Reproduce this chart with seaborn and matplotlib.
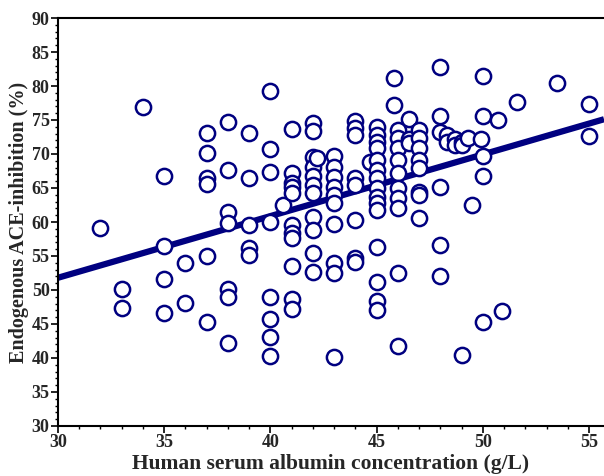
import matplotlib
matplotlib.use("Agg")
import matplotlib.pyplot as plt
import seaborn as sns
import pandas as pd
import numpy as np
from matplotlib.ticker import MultipleLocator

# ---- data ----
albumin = [32,
           33, 33,
           34,
           35, 35, 35, 35,
           36, 36,
           37, 37, 37, 37, 37, 37,
           38, 38, 38, 38, 38, 38, 38,
           39, 39, 39, 39, 39,
           40, 40, 40, 40, 40, 40, 40, 40,
           40.6,
           41, 41, 41, 41, 41, 41, 41, 41, 41, 41, 41,
           42, 42, 42, 42, 42, 42, 42, 42, 42, 42, 42,
           42.2,
           43, 43, 43, 43, 43, 43, 43, 43, 43, 43,
           44, 44, 44, 44, 44, 44, 44, 44,
           44.7,
           45, 45, 45, 45, 45, 45, 45, 45, 45, 45, 45, 45, 45, 45, 45,
           45.8, 45.8,
           46, 46, 46, 46, 46, 46, 46, 46, 46, 46,
           46.5, 46.5, 46.5,
           47, 47, 47, 47, 47, 47, 47, 47,
           48, 48, 48, 48, 48, 48,
           48.3, 48.3,
           48.7, 48.7,
           49, 49, 49,
           49.3,
           49.5,
           49.9,
           50, 50, 50, 50, 50,
           50.7,
           50.9,
           51.6,
           53.5,
           55, 55]

inhibition = [59.1,
              50.1, 47.3,
              76.9,
              66.8, 56.5, 51.6, 46.6,
              54.0, 48.1,
              73.1, 70.1, 66.5, 65.6, 55.0, 45.3,
              74.7, 67.6, 61.5, 59.9, 50.2, 49.0, 42.2,
              73.1, 66.5, 59.6, 56.2, 55.1,
              79.3, 70.8, 67.4, 60.0, 48.9, 45.7, 43.1, 40.3,
              62.5,
              73.7, 67.2, 65.8, 65.1, 64.2, 59.5, 58.4, 57.6, 53.6, 48.7, 47.2,
              74.6, 73.4, 69.6, 68.1, 66.8, 65.5, 64.2, 60.7, 58.8, 55.4, 52.6,
              69.4,
              69.7, 68.1, 66.6, 65.2, 64.0, 62.8, 59.7, 54.0, 52.5, 40.1,
              74.9, 73.8, 72.8, 66.5, 65.4, 60.3, 54.7, 54.1,
              68.8,
              74.0, 72.8, 71.8, 70.9, 69.1, 67.6, 66.5, 65.0, 63.7, 62.8, 61.8, 56.3, 51.2, 48.4, 47.1,
              81.2, 77.2,
              73.5, 72.4, 70.9, 69.1, 67.2, 65.0, 63.5, 62.1, 52.5, 41.8,
              75.1, 72.2, 71.6,
              73.5, 72.4, 70.9, 69.1, 67.9, 64.4, 64.0, 60.6,
              82.8, 75.6, 73.2, 65.1, 56.6, 52.1,
              72.8, 71.8,
              72.2, 71.3,
              71.8, 71.3, 40.4,
              72.4,
              62.5,
              72.2,
              81.5, 75.6, 69.7, 66.8, 45.3,
              75.0,
              46.9,
              77.6,
              80.4,
              77.3, 72.6]

# regression line
fit_intercept = 24.59
fit_slope = 0.907

x_ticks = [30, 35, 40, 45, 50, 55]
y_ticks = [30, 35, 40, 45, 50, 55, 60, 65, 70, 75, 80, 85, 90]

xlabel = "Human serum albumin concentration (g/L)"
ylabel = "Endogenous ACE-inhibition (%)"

navy = "#000080"

df = pd.DataFrame({"albumin": albumin, "inhibition": inhibition})

sns.set_theme(style="ticks")
plt.rcParams['font.family'] = ['Liberation Serif', 'DejaVu Serif']
plt.rcParams['font.weight'] = 'bold'

fig = plt.figure(figsize=(6.04, 4.76), dpi=100)
ax = fig.add_axes([58 / 604, 50 / 476, (604 - 58) / 604, 408 / 476])

xmin, xmax = 30, 55.7
line_x = np.array([xmin, xmax])
ax.plot(line_x, fit_intercept + fit_slope * line_x, color=navy, lw=4.5,
        solid_capstyle='butt', zorder=2)

sns.scatterplot(data=df, x="albumin", y="inhibition", ax=ax, marker='o', s=120,
                color='white', edgecolor=navy, linewidth=1.8, zorder=3, legend=False)

ax.set_xlim(xmin, xmax)
ax.set_ylim(30, 90)
ax.set_xticks(x_ticks)
ax.set_yticks(y_ticks)
ax.xaxis.set_minor_locator(MultipleLocator(1))
ax.yaxis.set_minor_locator(MultipleLocator(1))
ax.tick_params(which='major', direction='out', length=5, width=1.2, color='black',
               labelsize=13, pad=1)
ax.tick_params(which='minor', direction='out', length=2.5, width=1.0, color='black')
for lab in ax.get_xticklabels() + ax.get_yticklabels():
    lab.set_fontweight('bold')

for side in ['left', 'bottom', 'top']:
    ax.spines[side].set_linewidth(1.5)
    ax.spines[side].set_color('black')
ax.spines['right'].set_visible(False)

ax.set_xlabel(xlabel, fontsize=15.5, fontweight='bold', labelpad=2)
ax.set_ylabel(ylabel, fontsize=14.5, fontweight='bold', labelpad=2)

fig.savefig("out.png", dpi=100)
